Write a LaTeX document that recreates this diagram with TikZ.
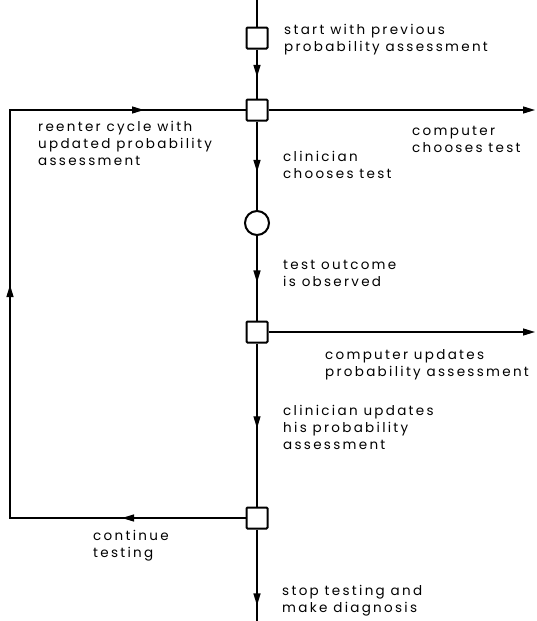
\documentclass[tikz,border=0pt]{standalone}
\usepackage{fontspec}
\setmainfont[LetterSpace=17]{Poppins}
\usetikzlibrary{arrows.meta,decorations.markings}
\tikzset{
  ln/.style={line width=1.3pt},
  dbox/.style={draw, rectangle, line width=2pt, minimum size=21pt, inner sep=0pt, rounded corners=1pt},
  chance/.style={draw, circle, line width=2pt, minimum size=24pt, inner sep=0pt},
  lbl/.style={anchor=north west, inner sep=0pt, align=left, font=\fontsize{13.5}{17}\selectfont},
  marr/.style={postaction={decorate}, decoration={markings, mark=at position #1 with {\arrow{Triangle[length=12pt,width=7pt]}}}},
  endarr/.style={-{Triangle[length=12pt,width=7pt]}}
}
\begin{document}
\begin{tikzpicture}[x=1pt,y=-1pt]
\useasboundingbox (0,0) rectangle (536,621);
% nodes
\node[dbox] (b1) at (257,38) {};
\node[dbox] (b2) at (257,110) {};
\node[chance] (c1) at (257,223) {};
\node[dbox] (b3) at (257,332) {};
\node[dbox] (b4) at (257,518) {};
\coordinate (top) at (257,0);
\coordinate (bot) at (257,621);
\coordinate (cbl) at (10,518);
\coordinate (ctl) at (10,110);
\coordinate (r1) at (535,110);
\coordinate (r2) at (535,332);
% connectors
\draw[ln] (top) -- (b1);
\draw[ln, marr=0.56] (b1) -- (b2);
\draw[ln, marr=0.57] (b2) -- (c1);
\draw[ln, marr=0.55] (c1) -- (b3);
\draw[ln, marr=0.52] (b3) -- (b4);
\draw[ln, marr=0.83] (b4) -- (bot);
\draw[ln, endarr] (b2) -- (r1);
\draw[ln, endarr] (b3) -- (r2);
\draw[ln, postaction={decorate}, decoration={markings,
    mark=at position 123.5pt with {\arrow{Triangle[length=12pt,width=7pt]}},
    mark=at position 468.5pt with {\arrow{Triangle[length=12pt,width=7pt]}},
    mark=at position 777.5pt with {\arrow{Triangle[length=12pt,width=7pt]}}}]
  (b4) -- (cbl) -- (ctl) -- (b2);
% labels
\node[lbl] (t1) at (284,24) {start with previous\\probability assessment};
\node[lbl] (t2) at (38,121) {reenter cycle with\\updated probability\\assessment};
\node[lbl] (t3) at (412,126) {computer\\chooses test};
\node[lbl] (t4) at (283,151) {clinician\\chooses test};
\node[lbl] (t5) at (283,260) {test outcome\\is observed};
\node[lbl] (t6) at (325,349) {computer updates\\probability assessment};
\node[lbl] (t7) at (283,405) {clinician updates\\his probability\\assessment};
\node[lbl] (t8) at (93,530) {continue\\testing};
\node[lbl] (t9) at (282,585) {stop testing and\\make diagnosis};
\end{tikzpicture}
\end{document}
